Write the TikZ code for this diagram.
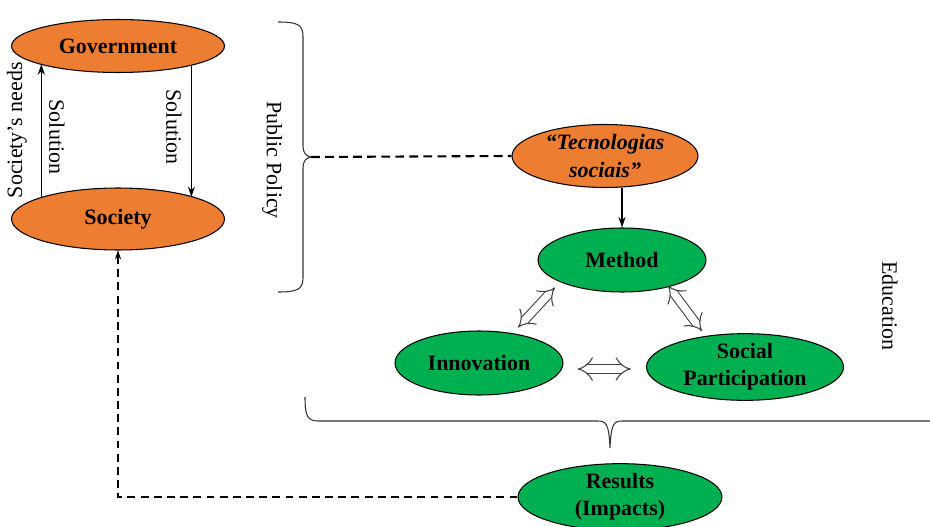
\documentclass[tikz,border=0pt]{standalone}
\usepackage{fontspec}
\setmainfont{Liberation Serif}
\usetikzlibrary{arrows.meta,calc,shapes.geometric}

\definecolor{govorange}{HTML}{ED7D31}
\definecolor{edugreen}{HTML}{00B050}

\tikzset{
  bubble/.style={ellipse, draw=black, line width=0.6pt, inner sep=0pt, align=center,
    font=\fontsize{12.5}{15.5}\selectfont\bfseries},
  orangebubble/.style={bubble, fill=govorange},
  greenbubble/.style={bubble, fill=edugreen},
  arr/.style={line width=0.8pt, -{Stealth[length=6pt,width=4pt]}},
  dasharr/.style={line width=0.6pt, dash pattern=on 4.5pt off 3pt, -{Stealth[length=5pt,width=3.5pt]}},
  dblarr/.style={double=white, double distance=4.2pt, line width=0.6pt, draw=black!75,
    {Implies[scale=1.35]}-{Implies[scale=1.35]}},
  rlabel/.style={font=\fontsize{12.5}{15}\selectfont},
  bracket/.style={line width=0.6pt, draw=black!80},
}

\begin{document}
\begin{tikzpicture}[x=0.02cm, y=-0.02cm]
\useasboundingbox (0,0) rectangle (930,527);

% public policy loop
\node[orangebubble, minimum width=4.26cm, minimum height=1.06cm] (gov) at (118,46) {Government};
\node[orangebubble, minimum width=4.26cm, minimum height=1.24cm] (soc) at (118,219) {Society};
\draw[arr] (soc.164.5) -- (soc.164.5 |- gov.193.4);
\draw[arr] (gov.345.9) -- (gov.345.9 |- soc.16.3);
\node[rlabel, rotate=90] (needs) at (17,130) {Society's needs};
\node[rlabel, rotate=-90] (solup) at (57,137) {Solution};
\node[rlabel, rotate=-90] (soldown) at (174,127) {Solution};

% brace
\draw[bracket] (278,22) .. controls (296,22) and (303,24) .. (303,36) -- (303,146)
  .. controls (303,153) and (306,156) .. (311,157)
  .. controls (306,158) and (303,161) .. (303,168) -- (303,278)
  .. controls (303,290) and (296,292) .. (278,292);
\coordinate (pptip) at (311,157);
\node[rlabel, rotate=-90] (policy) at (272,160) {Public Policy};

% education
\node[orangebubble, minimum width=3.72cm, minimum height=1.26cm,
  font=\fontsize{12.5}{15.5}\selectfont\bfseries\itshape] (tec) at (605,156) {``Tecnologias\\sociais''};
\node[greenbubble, minimum width=3.36cm, minimum height=1.28cm] (meth) at (622,260) {Method};
\node[greenbubble, minimum width=3.36cm, minimum height=1.28cm] (inno) at (479,363) {Innovation};
\node[greenbubble, minimum width=3.94cm, minimum height=1.32cm] (socp) at (745,367) {Social\\Participation};
\node[greenbubble, minimum width=4.08cm, minimum height=1.28cm] (res) at (620,497) {Results\\(Impacts)};
\node[rlabel, rotate=-90] (edu) at (890,306) {Education};

\draw[line width=1.2pt, dash pattern=on 5pt off 3pt] (pptip) -- (tec.west);
\draw[arr] (meth.north |- tec.south) -- (meth.north);
\draw[dblarr] ($(inno.north)+(39,-3)$) -- ($(meth.south)+(-67,-5)$);
\draw[dblarr] ($(meth.south)+(46,-7)$) -- ($(socp.north)+(-43,-2)$);
\draw[dblarr] ($(inno.east)+(14,6)$) -- ($(socp.west)+(-15,2)$);

% bottom brace
\draw[bracket] (305,397) .. controls (305,415) and (307,421) .. (318,421) -- (598,421)
  .. controls (606,421) and (609,424) .. (610,448)
  .. controls (611,424) and (614,421) .. (622,421) -- (930,421);

\draw[dasharr] (res.west) -| (soc.south);
\end{tikzpicture}
\end{document}
